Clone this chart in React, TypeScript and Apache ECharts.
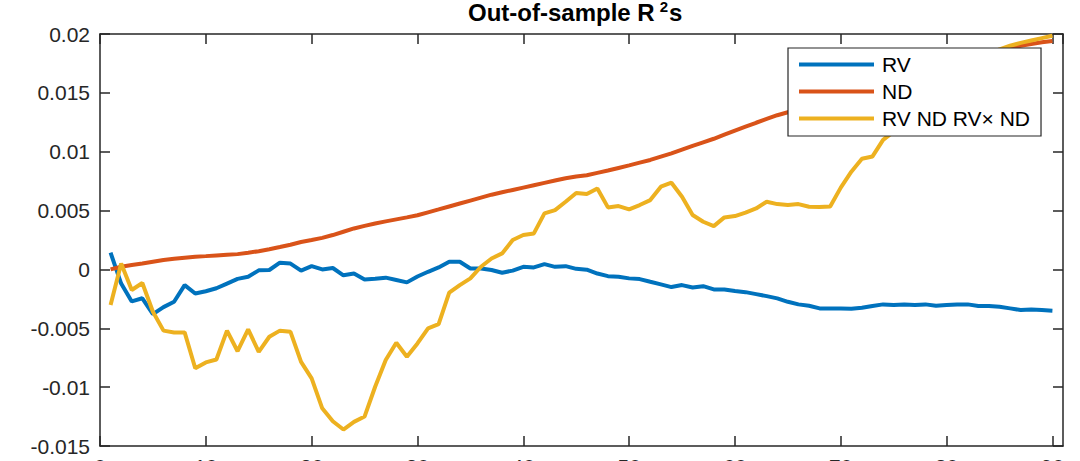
import React, { useEffect, useRef } from "react";
import * as echarts from "echarts";

const xValues = [
  1, 2, 3, 4, 5, 6, 7, 8, 9, 10, 11, 12, 13, 14, 15, 16, 17, 18, 19, 20,
  21, 22, 23, 24, 25, 26, 27, 28, 29, 30, 31, 32, 33, 34, 35, 36, 37, 38, 39, 40,
  41, 42, 43, 44, 45, 46, 47, 48, 49, 50, 51, 52, 53, 54, 55, 56, 57, 58, 59, 60,
  61, 62, 63, 64, 65, 66, 67, 68, 69, 70, 71, 72, 73, 74, 75, 76, 77, 78, 79, 80,
  81, 82, 83, 84, 85, 86, 87, 88, 89, 90,
];

const rvValues = [
  0.00142, -0.0012, -0.00272, -0.00245, -0.0038, -0.0032, -0.00275, -0.00133, -0.00205, -0.00185,
  -0.0016, -0.0012, -0.0008, -0.00062, -0.00008, -0.00005, 0.00057, 0.0005, -0.0001, 0.00028,
  0.0, 0.00012, -0.0005, -0.00035, -0.00085, -0.0008, -0.0007, -0.0009, -0.0011, -0.0006,
  -0.0002, 0.00017, 0.00065, 0.00065, 0.00008, 0.00008, -0.00005, -0.00028, -0.0001, 0.00022,
  0.00017, 0.00045, 0.00022, 0.00028, 0.00005, -0.00002, -0.00035, -0.00057, -0.00062, -0.00076,
  -0.00082, -0.00105, -0.00127, -0.0015, -0.00133, -0.00153, -0.00142, -0.0017, -0.0017, -0.00184,
  -0.00193, -0.0021, -0.00227, -0.00246, -0.00275, -0.00297, -0.00309, -0.00331, -0.00331, -0.00331,
  -0.00335, -0.00326, -0.0031, -0.00297, -0.00303, -0.00297, -0.00303, -0.00297, -0.00309, -0.00303,
  -0.00297, -0.00297, -0.0031, -0.0031, -0.00317, -0.00331, -0.00345, -0.0034, -0.00345, -0.0035,
];

const ndValues = [
  0.0, 0.00023, 0.00037, 0.0005, 0.00065, 0.0008, 0.0009, 0.001, 0.00108, 0.00113,
  0.00119, 0.00125, 0.0013, 0.00142, 0.00155, 0.00172, 0.0019, 0.0021, 0.00233, 0.0025,
  0.00268, 0.00292, 0.0032, 0.00348, 0.0037, 0.0039, 0.00408, 0.00425, 0.00442, 0.0046,
  0.00485, 0.0051, 0.00535, 0.0056, 0.00585, 0.0061, 0.00635, 0.00655, 0.00675, 0.00695,
  0.00715, 0.00735, 0.00755, 0.00775, 0.0079, 0.008, 0.0082, 0.0084, 0.00862, 0.00884,
  0.00907, 0.0093, 0.00958, 0.00986, 0.01018, 0.0105, 0.0108, 0.0111, 0.01145, 0.0118,
  0.01213, 0.01246, 0.01278, 0.0131, 0.01335, 0.0136, 0.0139, 0.0142, 0.0145, 0.0148,
  0.0151, 0.01535, 0.0156, 0.0159, 0.01615, 0.0164, 0.0167, 0.01695, 0.0172, 0.01745,
  0.0177, 0.01795, 0.0182, 0.0184, 0.0186, 0.0188, 0.019, 0.01915, 0.0193, 0.0194,
];

const interValues = [
  -0.00303, 0.0005, -0.00175, -0.00115, -0.0036, -0.0052, -0.00535, -0.00535, -0.0084, -0.0079,
  -0.00765, -0.0052, -0.00695, -0.0051, -0.007, -0.00572, -0.0052, -0.0053, -0.00785, -0.00926,
  -0.0118, -0.0129, -0.0136, -0.01295, -0.0125, -0.00997, -0.0077, -0.00623, -0.00742, -0.00629,
  -0.005, -0.00465, -0.00198, -0.00133, -0.00076, 0.00023, 0.00093, 0.00136, 0.0025, 0.00292,
  0.00306, 0.00476, 0.00504, 0.00575, 0.0065, 0.0064, 0.00688, 0.00527, 0.00538, 0.0051,
  0.00547, 0.00589, 0.00703, 0.00737, 0.00618, 0.00462, 0.00405, 0.00368, 0.00442, 0.00453,
  0.00482, 0.00518, 0.00575, 0.00555, 0.00547, 0.00555, 0.00533, 0.0053, 0.00535, 0.00695,
  0.0083, 0.0094, 0.0096, 0.011, 0.0117, 0.0123, 0.0131, 0.0139, 0.0146, 0.0155,
  0.0163, 0.017, 0.0176, 0.0182, 0.0187, 0.019, 0.01925, 0.01945, 0.01965, 0.01985,
];

const seriesNames = ["RV", "ND", "RV ND RV\u00d7 ND"];
const seriesColors = ["#0072BD", "#D95319", "#EDB120"];
const xTickValues = [0, 10, 20, 30, 40, 50, 60, 70, 80, 90];

const FONT = "'Liberation Sans', Arial, Helvetica, sans-serif";
const AXIS_COLOR = "#262626";

function pairs(ys: number[]) {
  return xValues.map((x, i) => [x, ys[i]]);
}

export default function App() {
  const ref = useRef<HTMLDivElement>(null);

  useEffect(() => {
    document.body.style.margin = "0";
    if (!ref.current) return;
    const chart = echarts.init(ref.current, undefined, { renderer: "svg" });

    const axisLineStyle = { color: AXIS_COLOR, width: 1.5 };
    const xCommon = {
      type: "value" as const,
      min: 0,
      max: 91,
      interval: 10,
      axisLine: { show: true, onZero: false, lineStyle: axisLineStyle },
      axisTick: { show: true, inside: true, length: 10, lineStyle: axisLineStyle },
      splitLine: { show: false },
    };
    const yCommon = {
      type: "value" as const,
      min: -0.015,
      max: 0.02,
      interval: 0.005,
      axisLine: { show: true, onZero: false, lineStyle: axisLineStyle },
      axisTick: { show: true, inside: true, length: 10, lineStyle: axisLineStyle },
      splitLine: { show: false },
    };

    const values = [rvValues, ndValues, interValues];

    chart.setOption({
      animation: false,
      backgroundColor: "#ffffff",
      title: {
        text: "{a|Out-of-sample R}{b|2}{a|s}",
        left: 468,
        top: -1,
        padding: 0,
        textStyle: {
          rich: {
            a: {
              fontFamily: FONT,
              fontSize: 24,
              fontWeight: "bold",
              color: "#000000",
              lineHeight: 26,
            },
            b: {
              fontFamily: FONT,
              fontSize: 15,
              fontWeight: "bold",
              color: "#000000",
              lineHeight: 15,
              verticalAlign: "top",
              padding: [0, 1, 0, 5],
            },
          },
        },
      },
      legend: {
        orient: "vertical",
        left: 788,
        top: 48,
        z: 10,
        padding: [6, 11, 7, 11],
        itemGap: 6,
        itemWidth: 75,
        itemHeight: 4,
        icon: "rect",
        borderColor: AXIS_COLOR,
        borderWidth: 1.2,
        backgroundColor: "#ffffff",
        data: seriesNames,
        textStyle: {
          fontFamily: FONT,
          fontSize: 21,
          color: "#000000",
          lineHeight: 21,
          padding: [0, 0, 0, 3],
        },
      },
      grid: { left: 100, right: 17, top: 34, bottom: 15, outerBoundsMode: "none", containLabel: false },
      xAxis: [
        {
          ...xCommon,
          position: "bottom",
          axisLabel: {
            show: true,
            margin: 10,
            fontFamily: FONT,
            fontSize: 21,
            color: AXIS_COLOR,
            showMaxLabel: false,
            formatter: (v: number) => (xTickValues.indexOf(v) >= 0 ? String(v) : ""),
          },
        },
        {
          ...xCommon,
          position: "top",
          axisLabel: { show: false },
        },
      ],
      yAxis: [
        {
          ...yCommon,
          position: "left",
          axisLabel: {
            show: true,
            margin: 10,
            fontFamily: FONT,
            fontSize: 21,
            color: AXIS_COLOR,
            formatter: (v: number) => String(parseFloat(v.toFixed(4))),
          },
        },
        {
          ...yCommon,
          position: "right",
          axisLabel: { show: false },
        },
      ],
      series: seriesNames.map((name, i) => ({
        name,
        type: "line",
        xAxisIndex: 0,
        yAxisIndex: 0,
        data: pairs(values[i]),
        showSymbol: false,
        symbol: "none",
        color: seriesColors[i],
        lineStyle: { width: 4, color: seriesColors[i] },
        itemStyle: { color: seriesColors[i] },
        z: 2,
      })),
    });

    return () => {
      chart.dispose();
    };
  }, []);

  return <div ref={ref} style={{ width: 1080, height: 461 }} />;
}
